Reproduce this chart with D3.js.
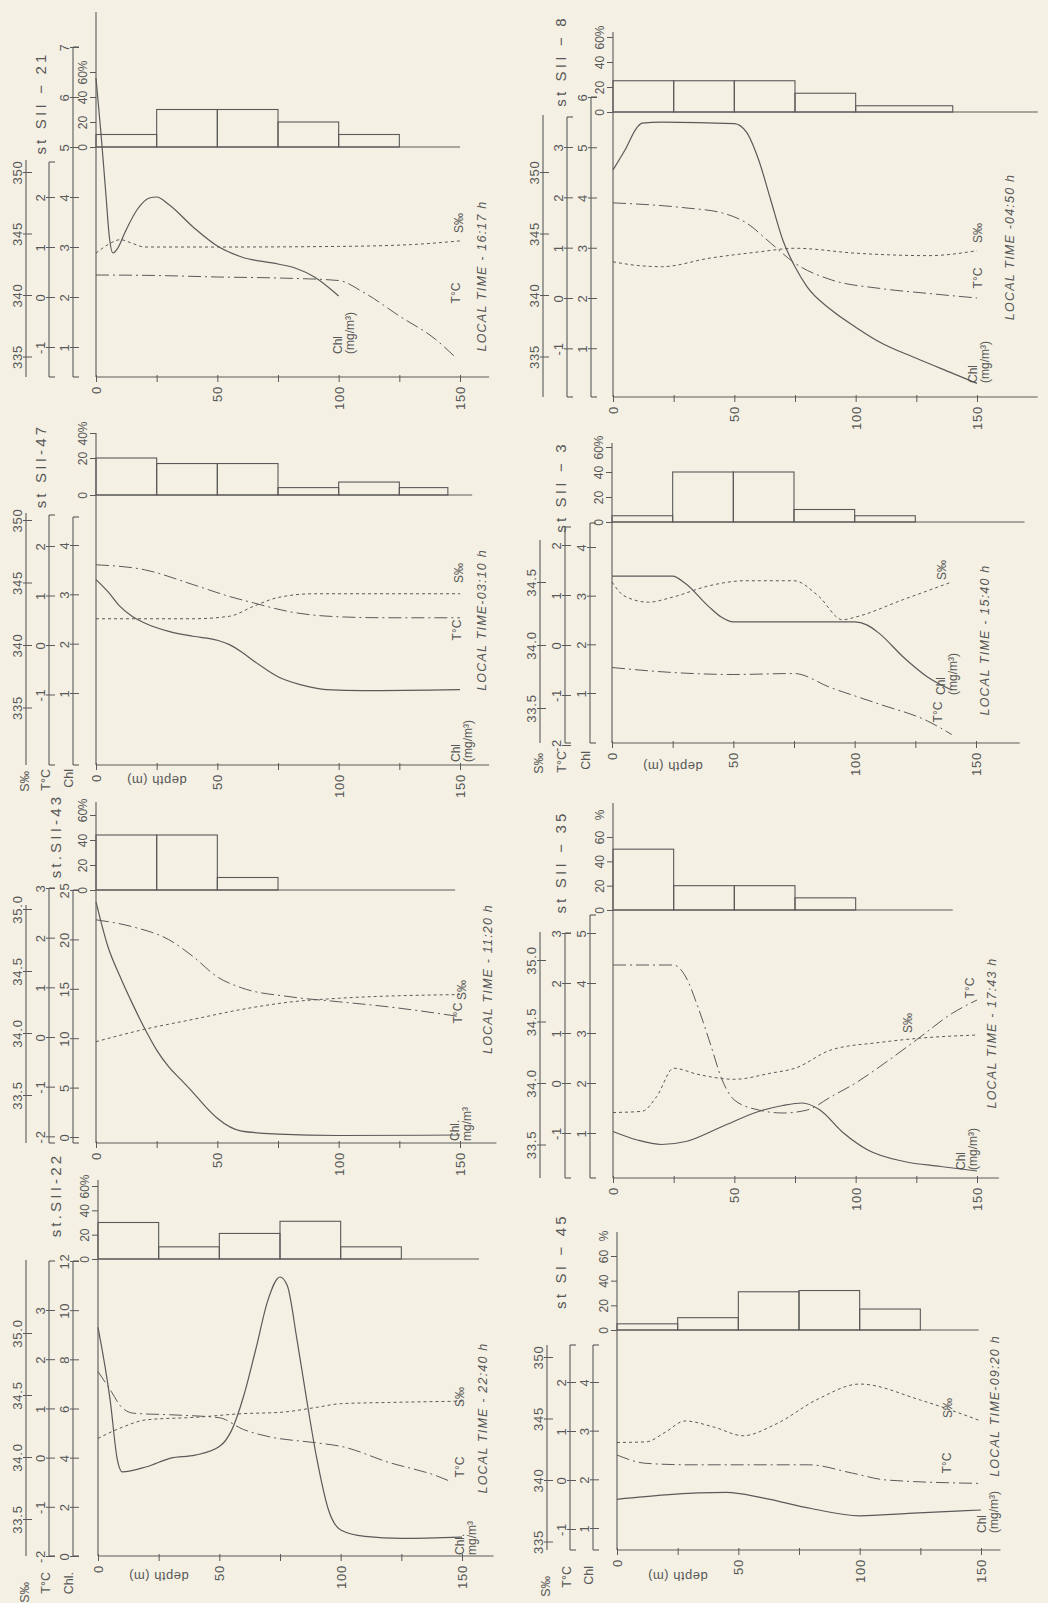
<!DOCTYPE html>
<html>
<head>
<meta charset="utf-8">
<script src="https://cdnjs.cloudflare.com/ajax/libs/d3/7.8.5/d3.min.js"></script>
<style>
  body { margin: 0; background: #f4f0e3; }
  svg { display: block; }
  text { font-family: "Liberation Sans", "DejaVu Sans", sans-serif; fill: #575757; }
</style>
</head>
<body>
<svg id="fig" width="1048" height="1603"></svg>
<script>
// ---- shared axis values ----
const depthTicks = [0, 25, 50, 75, 100, 125, 150];
const depthLabels = [0, 50, 100, 150];
const histBins = [0, 25, 50, 75, 100, 125, 150];
const salTicks = [335, 340, 345, 350];

// ---- st SII-21 ----  [depth m, value]
const sii21Chl = [[0,6.38],[2,5.3],[4,4.1],[5.5,3.2],[7,2.88],[9,2.98],[12,3.3],[17,3.75],[22,3.98],[25,4.0],[30,3.85],[40,3.4],[50,3.02],[60,2.8],[75,2.66],[82,2.58],[90,2.4],[100,2.02]];
const sii21T = [[0,0.44],[25,0.43],[50,0.4],[75,0.38],[100,0.33],[110,0.1],[125,-0.38],[140,-0.85],[148,-1.2]];
const sii21S = [[0,343.4],[5,344.1],[10,344.5],[15,344.2],[20,343.9],[50,343.9],[100,343.95],[130,344.1],[150,344.4]];
const sii21Hist = [10, 30, 30, 20, 10];

// ---- st SII-47 ----
const sii47Chl = [[0,3.3],[5,3.05],[10,2.75],[15,2.55],[20,2.42],[30,2.25],[40,2.15],[50,2.07],[55,1.98],[60,1.83],[65,1.65],[70,1.48],[75,1.33],[85,1.16],[95,1.07],[110,1.05],[150,1.07]];
const sii47T = [[0,1.62],[20,1.52],[40,1.22],[55,0.98],[65,0.85],[80,0.67],[100,0.57],[120,0.55],[150,0.55]];
const sii47S = [[0,342.1],[40,342.1],[55,342.3],[65,343.1],[75,343.8],[90,344.1],[150,344.1]];
const sii47Hist = [20, 17, 17, 4, 7, 4];
const sii47Bins = [0, 25, 50, 75, 100, 125, 145];

// ---- st SII-43 ----
const sii43Chl = [[0,23.8],[5,19.2],[10,16.2],[15,13.5],[20,11.0],[25,8.8],[30,7.1],[35,5.8],[40,4.5],[45,3.1],[50,1.9],[60,0.6],[75,0.3],[100,0.15],[150,0.2]];
const sii43T = [[0,2.36],[15,2.22],[30,1.96],[40,1.62],[50,1.21],[60,0.99],[80,0.81],[100,0.71],[120,0.61],[150,0.41]];
const sii43S = [[0,339.3],[20,340.3],[40,341.1],[60,341.9],[80,342.5],[100,342.8],[150,343.1]];
const sii43Hist = [44, 44, 10];

// ---- st SII-22 ----
const sii22Chl = [[0,9.3],[5,6.35],[8,3.9],[10,3.42],[20,3.63],[30,3.98],[40,4.1],[50,4.45],[55,5.1],[60,6.5],[65,8.4],[70,10.4],[75,11.35],[78,11.0],[82,8.8],[86,6.35],[90,4.05],[95,1.87],[100,1.06],[110,0.8],[125,0.72],[150,0.77]];
const sii22T = [[0,1.75],[5,1.38],[10,1.01],[15,0.9],[30,0.87],[50,0.81],[60,0.57],[70,0.43],[90,0.3],[100,0.23],[120,-0.1],[140,-0.38],[145,-0.48]];
const sii22S = [[0,341.5],[10,342.4],[20,343.0],[40,343.2],[60,343.5],[75,343.6],[90,344.0],[100,344.3],[120,344.4],[150,344.5]];
const sii22Hist = [30, 10, 21, 31, 10];

// ---- st SII-8 ----
const sii8Chl = [[0,4.55],[5,4.95],[10,5.4],[12,5.48],[20,5.5],[50,5.47],[55,5.3],[60,4.75],[65,3.95],[70,3.15],[75,2.62],[80,2.22],[90,1.76],[100,1.42],[110,1.12],[125,0.8],[140,0.5],[150,0.3]];
const sii8T = [[0,1.89],[30,1.79],[45,1.69],[55,1.49],[65,1.09],[75,0.69],[90,0.36],[110,0.19],[130,0.09],[150,0]];
const sii8S = [[0,342.7],[10,342.4],[20,342.3],[40,343.0],[60,343.5],[75,343.8],[100,343.4],[130,343.2],[150,343.6]];
const sii8Hist = [25, 25, 25, 15, 5];
const sii8Bins = [0, 25, 50, 75, 100, 140];

// ---- st SII-3 ----
const sii3Chl = [[0,3.4],[25,3.4],[30,3.26],[40,2.77],[45,2.56],[50,2.46],[75,2.46],[100,2.46],[105,2.4],[110,2.23],[120,1.74],[130,1.33],[140,1.06]];
const sii3T = [[0,-0.45],[25,-0.55],[50,-0.59],[75,-0.57],[90,-0.85],[110,-1.18],[130,-1.52],[140,-1.79]];
const sii3S = [[0,345.0],[5,343.9],[15,343.4],[25,343.8],[40,344.7],[55,345.1],[75,345.1],[85,343.9],[95,342.0],[100,342.2],[120,343.6],[140,345.0]];
const sii3Hist = [5, 40, 40, 10, 5];

// ---- st SII-35 ----
const sii35Chl = [[0,1.03],[10,0.86],[20,0.77],[30,0.83],[45,1.13],[60,1.43],[70,1.55],[78,1.6],[85,1.47],[95,1.0],[105,0.66],[120,0.43],[135,0.33],[150,0.24]];
const sii35T = [[0,2.36],[25,2.36],[30,2.12],[35,1.52],[40,0.8],[45,0.06],[50,-0.34],[60,-0.54],[70,-0.6],[80,-0.54],[90,-0.27],[100,0],[110,0.33],[125,0.86],[140,1.4],[150,1.66]];
const sii35S = [[0,337.6],[12,337.7],[18,338.9],[25,341.2],[35,340.7],[50,340.3],[65,340.8],[75,341.2],[90,342.7],[110,343.3],[130,343.7],[150,343.9]];
const sii35Hist = [50, 20, 20, 10];

// ---- st SI-45 ----
const si45Chl = [[0,1.59],[20,1.68],[45,1.73],[60,1.62],[80,1.4],[100,1.25],[120,1.3],[150,1.37]];
const si45T = [[0,0.51],[12,0.34],[30,0.31],[79,0.31],[97,0.14],[111,0],[150,-0.07]];
const si45S = [[0,343.05],[12,343.1],[20,343.9],[28,344.8],[40,344.3],[52,343.6],[65,344.5],[83,346.6],[100,347.8],[125,346.5],[150,344.8]];
const si45Hist = [5, 10, 31, 32, 17];

// ---- panel layout (positions in page pixels) ----
const leftAx = [26, 49, 73];
const panels = [
  { stn: 'st SII − 21', time: 'LOCAL TIME - 16:17 h', chl: sii21Chl, t: sii21T, s: sii21S, hist: sii21Hist, bins: histBins,
    ox: 96, yb: 377, yh: 147, frameTop: 12, depthEnd: 162, histEnd: 150,
    hDom: [0, 60], hRng: [147, 72], hTicks: [0, 20, 40, 60], hTop: '60%',
    chlDom: [2, 7], chlRng: [297, 47], chlTicks: [1, 2, 3, 4, 5, 6, 7], chlTop: 47,
    tDom: [0, 2], tRng: [297, 197], tTicks: [-1, 0, 1, 2], tTop: 162,
    sDom: [340, 350], sRng: [295, 172], sTicks: salTicks, sTop: 160, sDec: false,
    ax: leftAx, stnPos: [40, 103], timePos: [482, 276],
    chlLab: [344, 354], chlUnit: ['Chl', '(mg/m³)'], tLab: [456, 293], sLab: [459, 223] },
  { stn: 'st SII-47', time: 'LOCAL TIME-03:10 h', chl: sii47Chl, t: sii47T, s: sii47S, hist: sii47Hist, bins: sii47Bins,
    ox: 96, yb: 765, yh: 495, frameTop: 433, depthEnd: 162, histEnd: 155,
    hDom: [0, 20, 40], hRng: [495, 458, 433], hTicks: [0, 20, 40], hTop: '40%',
    chlDom: [1, 4], chlRng: [693, 545], chlTicks: [1, 2, 3, 4], chlTop: 517,
    tDom: [0, 2], tRng: [645, 546], tTicks: [-1, 0, 1, 2], tTop: 515,
    sDom: [340, 350], sRng: [645, 520], sTicks: salTicks, sTop: 513, sDec: false,
    ax: leftAx, stnPos: [40, 466], timePos: [482, 620],
    chlLab: [462, 762], chlUnit: ['Chl', '(mg/m³)'], tLab: [457, 630], sLab: [459, 573],
    titles: 4, depthOff: 9 },
  { stn: 'st.SII-43', time: 'LOCAL TIME - 11:20 h', chl: sii43Chl, t: sii43T, s: sii43S, hist: sii43Hist, bins: histBins,
    ox: 96, yb: 1143, yh: 890, frameTop: 802, depthEnd: 165, histEnd: 148,
    hDom: [0, 60], hRng: [890, 815], hTicks: [0, 20, 40, 60], hTop: '60', pctPos: 804,
    chlDom: [0, 25], chlRng: [1137, 890], chlTicks: [0, 5, 10, 15, 20, 25], chlTop: 890,
    tDom: [0, 3], tRng: [1037, 888], tTicks: [-2, -1, 0, 1, 2, 3], tTop: 888,
    sDom: [340, 350], sRng: [1033, 909], sTicks: salTicks, sTop: 905, sDec: true,
    ax: leftAx, stnPos: [55, 836], timePos: [488, 979],
    chlLab: [461, 1141], chlUnit: ['Chl.', 'mg/m³'], tLab: [458, 1013], sLab: [462, 990] },
  { stn: 'st.SII-22', time: 'LOCAL TIME - 22:40 h', chl: sii22Chl, t: sii22T, s: sii22S, hist: sii22Hist, bins: histBins,
    ox: 98, yb: 1556, yh: 1259, frameTop: 1180, depthEnd: 163, histEnd: 157,
    hDom: [0, 60], hRng: [1259, 1186], hTicks: [0, 20, 40, 60], hTop: '60%',
    chlDom: [0, 12], chlRng: [1556, 1261], chlTicks: [0, 2, 4, 6, 8, 10, 12], chlTop: 1261,
    tDom: [-2, 3], tRng: [1556, 1310], tTicks: [-2, -1, 0, 1, 2, 3], tTop: 1261,
    sDom: [340, 350], sRng: [1457, 1333], sTicks: salTicks, sTop: 1260, sDec: true,
    ax: leftAx, stnPos: [55, 1195], timePos: [483, 1418],
    chlLab: [466, 1555], chlUnit: ['Chl.', 'mg/m³'], tLab: [460, 1467], sLab: [460, 1397],
    titles: 16, depthOff: 14 },
  { stn: 'st SII − 8', time: 'LOCAL TIME -04:50 h', chl: sii8Chl, t: sii8T, s: sii8S, hist: sii8Hist, bins: sii8Bins,
    ox: 613, yb: 397, yh: 112, frameTop: 32, depthEnd: 175, histEnd: 175,
    hDom: [0, 60], hRng: [112, 37], hTicks: [0, 20, 40, 60], hTop: '60%',
    chlDom: [2, 6], chlRng: [298, 97], chlTicks: [1, 2, 3, 4, 5, 6], chlTop: 97,
    tDom: [0, 3], tRng: [298, 147], tTicks: [-1, 0, 1, 2, 3], tTop: 117,
    sDom: [340, 350], sRng: [295, 172], sTicks: salTicks, sTop: 115, sDec: false,
    ax: [543, 567, 591], stnPos: [560, 61], timePos: [1010, 247],
    chlLab: [979, 383], chlUnit: ['Chl', '(mg/m³)'], tLab: [978, 278], sLab: [978, 233] },
  { stn: 'st SII − 3', time: 'LOCAL TIME - 15:40 h', chl: sii3Chl, t: sii3T, s: sii3S, hist: sii3Hist, bins: histBins,
    ox: 612, yb: 743, yh: 522, frameTop: 443, depthEnd: 168, histEnd: 170,
    hDom: [0, 60], hRng: [522, 447], hTicks: [0, 20, 40, 60], hTop: '60%',
    chlDom: [1, 4], chlRng: [693, 547], chlTicks: [1, 2, 3, 4], chlTop: 523,
    tDom: [0, 2], tRng: [645, 545], tTicks: [-2, -1, 0, 1, 2], tTop: 527,
    sDom: [340, 345], sRng: [645, 582], sTicks: [335, 340, 345], sTop: 540, sDec: true,
    ax: [540, 565, 590], stnPos: [560, 487], timePos: [985, 640],
    chlLab: [947, 695], chlUnit: ['Chl', '(mg/m³)'], tLab: [938, 712], sLab: [942, 570],
    titles: 8, depthOff: 17 },
  { stn: 'st SII − 35', time: 'LOCAL TIME - 17:43 h', chl: sii35Chl, t: sii35T, s: sii35S, hist: sii35Hist, bins: histBins,
    ox: 613, yb: 1178, yh: 910, frameTop: 803, depthEnd: 159, histEnd: 140,
    hDom: [0, 60], hRng: [910, 837], hTicks: [0, 20, 40, 60], hTop: '60', pctPos: 815,
    chlDom: [1, 5], chlRng: [1133, 933], chlTicks: [1, 2, 3, 4, 5], chlTop: 915,
    tDom: [0, 3], tRng: [1083, 933], tTicks: [-1, 0, 1, 2, 3], tTop: 933,
    sDom: [340, 350], sRng: [1083, 960], sTicks: salTicks, sTop: 932, sDec: true,
    ax: [540, 565, 590], stnPos: [560, 862], timePos: [992, 1033],
    chlLab: [967, 1170], chlUnit: ['Chl', '(mg/m³)'], tLab: [970, 988], sLab: [908, 1023] },
  { stn: 'st SI − 45', time: 'LOCAL TIME-09:20 h', chl: si45Chl, t: si45T, s: si45S, hist: si45Hist, bins: histBins,
    ox: 617, yb: 1550, yh: 1330, frameTop: 1232, depthEnd: 158, histEnd: 149,
    hDom: [0, 60], hRng: [1330, 1256], hTicks: [0, 20, 40, 60], hTop: '60', pctPos: 1236,
    chlDom: [1, 4], chlRng: [1528, 1382], chlTicks: [1, 2, 3, 4], chlTop: 1345,
    tDom: [0, 2], tRng: [1480, 1382], tTicks: [-1, 0, 1, 2], tTop: 1345,
    sDom: [340, 350], sRng: [1480, 1357], sTicks: salTicks, sTop: 1345, sDec: false,
    ax: [547, 570, 593], stnPos: [560, 1261], timePos: [995, 1406],
    chlLab: [988, 1533], chlUnit: ['Chl', '(mg/m³)'], tLab: [947, 1463], sLab: [948, 1408],
    titles: 16, depthOff: 20 }
];

const INK = '#5a5a5a';
const svg = d3.select('#fig');
svg.append('rect').attr('width', 1048).attr('height', 1603).attr('fill', '#f4f0e3');

// rotated text helper (figure is printed sideways)
function rtext(g, x, y, str, o = {}) {
  return g.append('text')
    .attr('transform', `translate(${x},${y}) rotate(${o.rot ?? -90})`)
    .attr('text-anchor', o.anchor || 'middle')
    .attr('dominant-baseline', o.base || 'central')
    .attr('font-size', o.size || 12)
    .attr('font-style', o.italic ? 'italic' : null)
    .attr('letter-spacing', o.ls || null)
    .text(str);
}

function vline(g, x, y1, y2) {
  g.append('line').attr('x1', x).attr('x2', x).attr('y1', y1).attr('y2', y2)
    .attr('stroke', INK).attr('stroke-width', 1.1);
}
function hline(g, x1, x2, y) {
  g.append('line').attr('x1', x1).attr('x2', x2).attr('y1', y).attr('y2', y)
    .attr('stroke', INK).attr('stroke-width', 1.1);
}

// vertical variable axis with labels rotated to the left of the line
function varAxis(g, scale, ticks, axX, top, bottom, fmt, bracket) {
  vline(g, axX, top, bottom);
  if (bracket) { hline(g, axX, axX + 6, top); hline(g, axX, axX + 6, bottom); }
  const a = g.append('g').attr('transform', `translate(${axX},0)`)
    .call(d3.axisRight(scale).tickValues(ticks).tickSize(6).tickFormat(fmt));
  a.attr('font-family', null).attr('font-size', 13);
  a.select('.domain').remove();
  a.selectAll('.tick line').attr('x1', -3).attr('x2', 6).attr('stroke', INK);
  a.selectAll('.tick text')
    .attr('transform', 'rotate(-90)').attr('x', 0).attr('y', -4).attr('dy', 0)
    .attr('text-anchor', 'middle').attr('letter-spacing', 0.8);
}

function drawPanel(p) {
  const g = svg.append('g');
  const x = d3.scaleLinear().domain([0, 150]).range([p.ox, p.ox + 364]);
  const yC = d3.scaleLinear().domain(p.chlDom).range(p.chlRng);
  const yT = d3.scaleLinear().domain(p.tDom).range(p.tRng);
  const yS = d3.scaleLinear().domain(p.sDom).range(p.sRng);
  const yH = d3.scaleLinear().domain(p.hDom).range(p.hRng);
  const [sx, tx, cx] = p.ax;

  // frame: depth axis + depth-zero line
  hline(g, x(0), x(p.depthEnd), p.yb);
  vline(g, x(0), p.frameTop, p.yb);

  const dAx = g.append('g').attr('transform', `translate(0,${p.yb})`)
    .call(d3.axisBottom(x).tickValues(depthTicks).tickSize(5)
      .tickFormat(d => depthLabels.includes(d) ? d : ''));
  dAx.attr('font-family', null).attr('font-size', 13);
  dAx.select('.domain').remove();
  dAx.selectAll('.tick line').attr('y1', -2).attr('stroke', INK);
  dAx.selectAll('.tick text')
    .attr('transform', 'rotate(-90)').attr('x', -9).attr('y', 0).attr('dy', '0.35em')
    .attr('text-anchor', 'end').attr('letter-spacing', 0.8);

  // histogram (% of population per depth layer)
  hline(g, x(0), x(p.histEnd), p.yh);
  const hAx = g.append('g').attr('transform', `translate(${p.ox},0)`)
    .call(d3.axisLeft(yH).tickValues(p.hTicks).tickSize(6)
      .tickFormat(d => d === p.hTicks[p.hTicks.length - 1] ? p.hTop : d));
  hAx.attr('font-family', null).attr('font-size', 12);
  hAx.select('.domain').remove();
  hAx.selectAll('.tick line').attr('stroke', INK);
  hAx.selectAll('.tick text')
    .attr('transform', 'rotate(-90)').attr('x', 0).attr('y', -9).attr('dy', 0)
    .attr('text-anchor', 'middle');
  if (p.pctPos) rtext(g, p.ox - 13, p.pctPos, '%', { size: 12 });

  g.append('g').selectAll('rect')
    .data(p.hist.map((v, i) => ({ d0: p.bins[i], d1: p.bins[i + 1], v })).filter(b => b.v > 0))
    .join('rect')
    .attr('x', b => x(b.d0)).attr('width', b => x(b.d1) - x(b.d0))
    .attr('y', b => yH(b.v)).attr('height', b => p.yh - yH(b.v))
    .attr('fill', 'none').attr('stroke', INK).attr('stroke-width', 1.1);

  // variable axes: salinity, temperature, chlorophyll
  const sFmt = d => p.sDec ? (d / 10).toFixed(1) : d;
  varAxis(g, yS, p.sTicks, sx, p.sTop, p.yb, sFmt, false);
  varAxis(g, yT, p.tTicks, tx, p.tTop, p.yb, d => d, true);
  varAxis(g, yC, p.chlTicks, cx, p.chlTop, p.yb, d => d, true);

  // profiles
  const mk = sc => d3.line().x(d => x(d[0])).y(d => sc(d[1])).curve(d3.curveMonotoneX);
  g.append('path').attr('d', mk(yS)(p.s)).attr('fill', 'none')
    .attr('stroke', INK).attr('stroke-width', 1).attr('stroke-dasharray', '3,3');
  g.append('path').attr('d', mk(yT)(p.t)).attr('fill', 'none')
    .attr('stroke', INK).attr('stroke-width', 1).attr('stroke-dasharray', '13,4,2,4');
  g.append('path').attr('d', mk(yC)(p.chl)).attr('fill', 'none')
    .attr('stroke', INK).attr('stroke-width', 1.2);

  // labels
  rtext(g, p.stnPos[0], p.stnPos[1], p.stn, { size: 15, ls: 3.2 });
  rtext(g, p.timePos[0], p.timePos[1], p.time, { size: 12.5, italic: true, ls: 1.2 });
  rtext(g, p.chlLab[0] - 6, p.chlLab[1], p.chlUnit[0], { anchor: 'start', size: 12 });
  rtext(g, p.chlLab[0] + 6, p.chlLab[1], p.chlUnit[1], { anchor: 'start', size: 12 });
  rtext(g, p.tLab[0], p.tLab[1], 'T°C', { size: 12 });
  rtext(g, p.sLab[0], p.sLab[1], 'S‰', { size: 12 });

  if (p.titles) {
    const ty = p.yb + p.titles;
    rtext(g, sx - 1, ty + (p.titles > 10 ? 10 : 2), 'S‰', { anchor: 'end', size: 12.5 });
    rtext(g, tx - 3, ty, 'T°C', { anchor: 'end', size: 12.5 });
    rtext(g, cx - 4, ty, p.chlUnit[0], { anchor: 'end', size: 12.5 });
    rtext(g, x(25), p.yb + p.depthOff + 6, 'depth (m)', { rot: 180, size: 13, ls: 0.5 });
  }
}

panels.forEach(drawPanel);
</script>
</body>
</html>
